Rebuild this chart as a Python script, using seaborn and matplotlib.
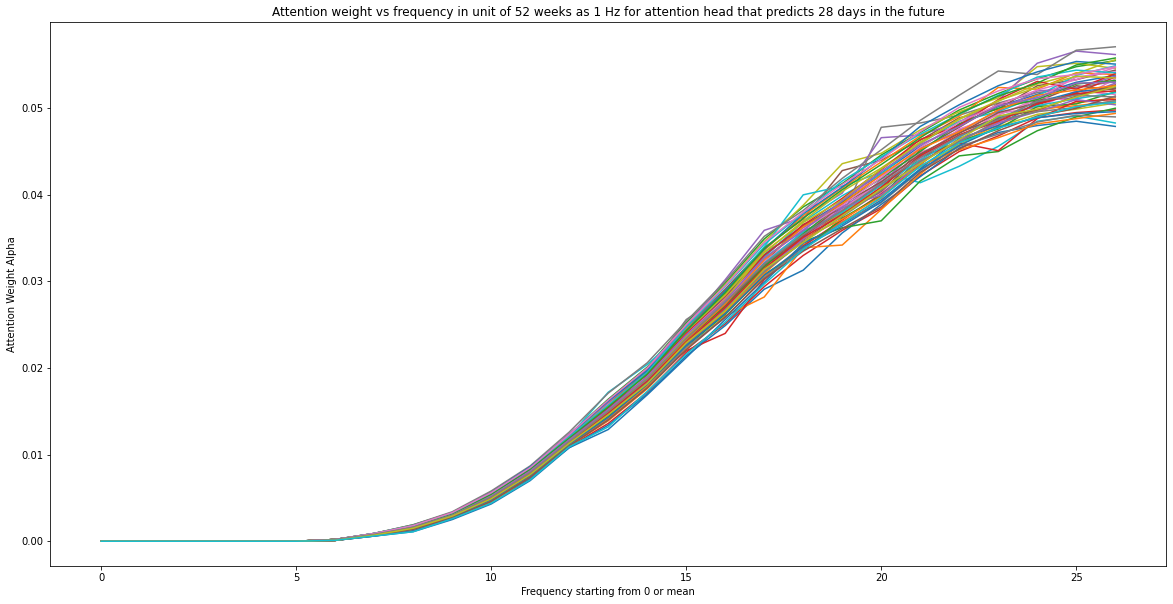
import matplotlib
matplotlib.use('Agg')
import matplotlib.pyplot as plt
import numpy as np
import pandas as pd
import seaborn as sns

# Frequency index (0 = mean term)
frequency = [0, 1, 2, 3, 4, 5, 6, 7, 8, 9, 10, 11, 12, 13, 14, 15, 16, 17, 18, 19, 20,
             21, 22, 23, 24, 25, 26]

# Attention weight per series, in thousandths
alpha_milli = [
    [0, 0, 0, 0, 0, 0, 0.2, 0.8, 1.7, 3.1, 5.4, 8.3, 11.9, 15.6, 19.2, 24.0, 28.3, 33.1, 36.4, 39.2, 42.5, 45.6, 48.1, 50.2, 51.6, 53.0, 53.8],
    [0, 0, 0, 0, 0, 0, 0.1, 0.7, 1.4, 2.8, 4.8, 7.6, 11.1, 14.3, 18.0, 22.6, 26.4, 30.5, 34.2, 36.9, 39.6, 43.8, 46.2, 48.4, 49.7, 50.6, 51.2],
    [0, 0, 0, 0, 0, 0, 0.2, 0.9, 1.9, 3.3, 5.7, 8.6, 12.3, 16.4, 20.1, 25.2, 29.8, 34.9, 38.6, 41.3, 44.6, 47.2, 49.8, 51.7, 53.4, 54.8, 55.5],
    [0, 0, 0, 0, 0, 0, 0.1, 0.6, 1.2, 2.6, 4.5, 7.2, 10.9, 13.6, 17.2, 21.8, 25.1, 29.4, 33.0, 35.9, 38.4, 42.2, 45.0, 46.8, 48.9, 49.5, 49.8],
    [0, 0, 0, 0, 0, 0, 0.2, 0.8, 1.6, 3.0, 5.1, 7.9, 11.6, 15.2, 19.0, 23.3, 27.9, 31.6, 35.9, 37.6, 41.8, 44.1, 47.5, 48.6, 50.9, 51.2, 52.9],
    [0, 0, 0, 0, 0, 0, 0.2, 0.8, 1.8, 3.2, 5.5, 8.4, 12.0, 15.9, 19.6, 24.6, 29.1, 33.9, 37.2, 42.8, 44.0, 46.3, 48.9, 49.9, 52.6, 53.3, 54.4],
    [0, 0, 0, 0, 0, 0, 0.1, 0.7, 1.5, 2.9, 5.0, 7.8, 11.3, 14.8, 18.5, 23.8, 27.0, 32.4, 35.1, 38.7, 40.2, 44.9, 46.6, 49.4, 50.1, 52.0, 51.6],
    [0, 0, 0, 0, 0, 0, 0.2, 0.8, 1.7, 3.1, 5.3, 8.2, 11.8, 15.5, 19.4, 25.6, 28.6, 33.4, 35.8, 37.4, 47.8, 48.3, 49.2, 50.6, 51.8, 52.4, 53.1],
    [0, 0, 0, 0, 0, 0, 0.2, 0.9, 1.8, 3.2, 5.6, 8.5, 12.2, 16.1, 19.9, 24.9, 29.6, 34.6, 38.8, 43.6, 44.8, 47.5, 49.6, 51.2, 54.8, 55.2, 54.6],
    [0, 0, 0, 0, 0, 0, 0.2, 0.8, 1.7, 3.1, 5.4, 8.3, 12.1, 17.2, 20.4, 24.4, 28.8, 34.0, 40.0, 41.0, 42.6, 41.4, 43.3, 45.6, 48.5, 49.1, 48.3],
    [0, 0, 0, 0, 0, 0, 0.1, 0.6, 1.3, 2.6, 4.6, 7.3, 10.8, 13.4, 17.0, 21.4, 24.9, 29.1, 31.3, 35.6, 38.9, 42.1, 45.4, 47.2, 48.0, 48.5, 47.9],
    [0, 0, 0, 0, 0, 0, 0.1, 0.7, 1.4, 2.7, 4.4, 7.5, 11.0, 13.9, 17.6, 22.2, 26.0, 28.2, 33.9, 34.2, 38.3, 42.4, 46.0, 48.1, 49.9, 50.3, 50.8],
    [0, 0, 0, 0, 0, 0, 0.1, 0.7, 1.5, 2.8, 4.9, 7.7, 11.2, 14.6, 18.3, 22.9, 26.8, 31.2, 34.6, 36.2, 37.0, 41.6, 44.5, 45.0, 47.4, 49.0, 50.0],
    [0, 0, 0, 0, 0, 0, 0.1, 0.7, 1.5, 2.9, 5.0, 7.8, 11.4, 14.7, 18.4, 22.0, 24.0, 30.2, 34.1, 37.1, 40.1, 43.5, 46.9, 48.8, 50.4, 51.8, 53.6],
    [0, 0, 0, 0, 0, 0, 0.2, 0.9, 1.8, 3.3, 5.6, 8.4, 12.4, 16.0, 19.8, 24.8, 30.2, 35.9, 37.4, 40.2, 46.6, 46.9, 48.4, 50.9, 55.2, 56.6, 56.2],
    [0, 0, 0, 0, 0, 0, 0.2, 0.8, 1.6, 3.0, 5.2, 8.1, 11.7, 15.1, 18.9, 23.6, 27.6, 32.2, 36.6, 38.4, 40.6, 45.2, 47.8, 50.5, 50.8, 52.6, 52.1],
    [0, 0, 0, 0, 0, 0, 0.2, 0.8, 1.6, 3.0, 5.1, 8.0, 11.5, 14.9, 18.7, 23.1, 27.3, 31.8, 35.0, 39.5, 42.2, 44.8, 46.4, 48.2, 51.3, 50.9, 53.4],
    [0, 0, 0, 0, 0, 0, 0.2, 0.9, 1.9, 3.4, 5.8, 8.7, 12.6, 17.1, 20.6, 25.4, 30.0, 35.2, 38.2, 41.9, 45.2, 48.6, 51.5, 54.3, 53.9, 56.7, 57.1],
    [0, 0, 0, 0, 0, 0, 0.1, 0.7, 1.5, 2.9, 4.9, 7.7, 11.3, 14.5, 18.1, 22.8, 26.6, 31.0, 35.4, 37.9, 40.8, 43.2, 45.8, 47.9, 49.3, 49.9, 50.6],
    [0, 0, 0, 0, 0, 0, 0.2, 0.8, 1.7, 3.1, 5.3, 8.2, 11.8, 15.4, 19.3, 24.2, 28.0, 32.8, 36.9, 39.9, 42.4, 46.0, 48.5, 49.6, 51.4, 53.8, 54.9],
    [0, 0, 0, 0, 0, 0, 0.1, 0.6, 1.1, 2.5, 4.3, 7.0, 10.8, 12.9, 16.9, 21.2, 25.6, 29.9, 34.4, 36.6, 39.4, 43.0, 46.5, 48.0, 50.7, 51.9, 52.4],
    [0, 0, 0, 0, 0, 0, 0.2, 0.9, 1.8, 3.2, 5.5, 8.5, 12.1, 15.8, 19.5, 24.5, 28.4, 33.6, 37.6, 40.8, 43.8, 46.8, 49.1, 52.4, 52.2, 54.1, 53.9],
    [0, 0, 0, 0, 0, 0, 0.1, 0.7, 1.4, 2.8, 4.8, 7.6, 11.2, 14.4, 18.2, 22.5, 26.2, 30.8, 33.6, 37.3, 39.9, 44.3, 46.2, 47.6, 50.2, 50.5, 51.9],
    [0, 0, 0, 0, 0, 0, 0.2, 0.8, 1.6, 3.0, 5.2, 8.0, 11.6, 15.0, 18.6, 23.4, 27.4, 31.4, 35.3, 38.1, 41.2, 44.4, 46.0, 45.1, 48.8, 50.8, 51.0],
    [0, 0, 0, 0, 0, 0, 0.2, 0.8, 1.7, 3.1, 5.3, 8.1, 11.7, 15.3, 19.1, 23.9, 27.8, 32.6, 36.2, 38.6, 41.4, 45.4, 47.4, 49.7, 52.0, 52.3, 53.7],
    [0, 0, 0, 0, 0, 0, 0.1, 0.7, 1.5, 2.9, 5.0, 7.9, 11.4, 14.9, 18.6, 23.2, 27.2, 31.9, 34.8, 37.8, 40.4, 44.6, 47.2, 48.9, 49.8, 51.4, 52.7],
    [0, 0, 0, 0, 0, 0, 0.2, 0.8, 1.6, 3.0, 5.2, 8.1, 11.6, 15.2, 18.9, 23.7, 27.7, 32.3, 35.6, 38.3, 41.6, 44.2, 47.6, 49.2, 51.1, 53.6, 54.2],
    [0, 0, 0, 0, 0, 0, 0.1, 0.7, 1.4, 2.7, 4.7, 7.4, 11.0, 14.1, 17.8, 22.4, 25.8, 30.4, 33.8, 36.8, 39.1, 42.8, 45.6, 47.0, 48.4, 49.2, 49.0],
    [0, 0, 0, 0, 0, 0, 0.2, 0.8, 1.7, 3.1, 5.4, 8.3, 11.9, 15.6, 19.3, 24.1, 28.5, 33.3, 37.0, 40.4, 43.1, 46.1, 48.7, 50.8, 52.8, 54.0, 55.6],
    [0, 0, 0, 0, 0, 0, 0.2, 0.8, 1.6, 3.0, 5.1, 7.9, 11.5, 15.1, 18.8, 23.5, 27.5, 32.1, 35.7, 38.0, 41.1, 44.0, 46.7, 49.0, 50.3, 51.1, 51.8],
    [0, 0, 0, 0, 0, 0, 0.2, 0.9, 1.8, 3.2, 5.6, 8.6, 12.2, 16.2, 19.7, 24.3, 28.9, 33.7, 37.8, 40.9, 44.2, 47.9, 50.4, 52.6, 54.2, 55.4, 55.1],
    [0, 0, 0, 0, 0, 0, 0.1, 0.7, 1.4, 2.8, 4.8, 7.5, 11.1, 14.2, 17.9, 22.7, 26.5, 30.9, 34.9, 37.2, 39.8, 43.4, 45.2, 46.6, 48.2, 48.8, 49.4],
    [0, 0, 0, 0, 0, 0, 0.2, 0.8, 1.6, 3.0, 5.2, 8.0, 11.6, 15.0, 18.7, 23.4, 27.1, 31.7, 35.5, 39.1, 41.9, 45.0, 48.2, 50.0, 51.0, 52.8, 53.2],
    [0, 0, 0, 0, 0, 0, 0.2, 0.8, 1.7, 3.1, 5.3, 8.2, 11.8, 15.4, 19.2, 24.0, 28.1, 33.0, 36.5, 39.6, 42.9, 46.4, 48.0, 51.0, 53.1, 52.2, 54.0],
    [0, 0, 0, 0, 0, 0, 0.1, 0.7, 1.5, 2.9, 5.0, 7.8, 11.3, 14.7, 18.4, 22.9, 26.9, 31.3, 34.9, 38.5, 40.0, 43.7, 46.3, 48.3, 49.6, 51.0, 50.4],
    [0, 0, 0, 0, 0, 0, 0.2, 0.8, 1.6, 3.0, 5.1, 8.0, 11.5, 14.9, 18.8, 23.6, 27.3, 32.0, 35.2, 38.9, 41.5, 44.7, 47.1, 49.5, 50.6, 51.6, 52.3],
    [0, 0, 0, 0, 0, 0, 0.2, 0.8, 1.7, 3.1, 5.3, 8.1, 11.9, 15.8, 19.0, 23.8, 28.0, 32.6, 36.0, 38.8, 42.0, 45.5, 48.4, 50.4, 52.1, 53.3, 54.7],
    [0, 0, 0, 0, 0, 0, 0.1, 0.7, 1.5, 2.8, 4.9, 7.7, 11.3, 14.6, 18.3, 22.8, 26.7, 31.1, 34.6, 37.5, 40.5, 43.9, 46.1, 48.6, 49.6, 50.1, 50.9],
    [0, 0, 0, 0, 0, 0, 0.2, 0.8, 1.6, 3.0, 5.2, 8.0, 11.6, 15.1, 18.9, 23.6, 27.9, 33.4, 36.8, 39.4, 43.0, 45.9, 48.8, 50.9, 52.4, 53.7, 53.5],
    [0, 0, 0, 0, 0, 0, 0.2, 0.9, 1.8, 3.2, 5.5, 8.4, 12.1, 15.7, 19.5, 24.7, 29.4, 34.3, 37.9, 41.6, 44.4, 47.0, 49.3, 51.5, 53.6, 54.4, 54.1],
    [0, 0, 0, 0, 0, 0, 0.1, 0.7, 1.4, 2.8, 4.8, 7.6, 11.2, 14.3, 18.1, 22.6, 26.3, 30.7, 34.0, 36.4, 39.2, 42.9, 45.7, 47.8, 48.9, 49.4, 49.6],
    [0, 0, 0, 0, 0, 0, 0.2, 0.8, 1.6, 3.0, 5.1, 8.0, 11.5, 14.9, 18.6, 23.3, 27.4, 32.5, 36.3, 39.0, 42.3, 45.3, 47.3, 49.8, 51.5, 52.1, 52.6],
    [0, 0, 0, 0, 0, 0, 0.2, 0.8, 1.7, 3.1, 5.4, 8.3, 11.9, 15.5, 19.3, 24.3, 28.7, 33.8, 37.3, 40.6, 43.5, 46.6, 49.4, 51.4, 52.9, 55.0, 55.8],
    [0, 0, 0, 0, 0, 0, 0.1, 0.7, 1.5, 2.9, 5.0, 7.8, 11.4, 14.8, 18.5, 23.0, 27.0, 31.5, 35.1, 37.7, 40.9, 44.5, 46.9, 48.5, 50.5, 51.7, 52.0],
    [0, 0, 0, 0, 0, 0, 0.2, 0.8, 1.6, 3.0, 5.2, 8.1, 11.7, 15.2, 19.0, 23.8, 27.8, 32.7, 35.9, 39.3, 42.7, 45.8, 47.9, 50.3, 51.2, 52.9, 53.0],
    [0, 0, 0, 0, 0, 0, 0.1, 0.7, 1.4, 2.7, 4.6, 7.4, 11.0, 14.0, 17.7, 22.1, 25.9, 30.3, 33.5, 36.1, 38.6, 42.6, 45.3, 47.4, 49.1, 50.0, 51.4],
    [0, 0, 0, 0, 0, 0, 0.2, 0.9, 1.8, 3.3, 5.6, 8.5, 12.3, 16.3, 20.0, 25.0, 29.5, 34.5, 38.0, 41.2, 44.1, 47.3, 50.1, 52.0, 53.4, 53.9, 54.8],
    [0, 0, 0, 0, 0, 0, 0.2, 0.8, 1.6, 3.0, 5.1, 7.9, 11.5, 15.0, 18.7, 23.4, 27.6, 32.0, 35.4, 38.2, 41.3, 44.3, 46.8, 48.7, 50.8, 51.5, 51.3],
    [0, 0, 0, 0, 0, 0, 0.1, 0.7, 1.5, 2.9, 4.9, 7.7, 11.3, 14.6, 18.2, 22.9, 26.6, 31.4, 34.5, 37.6, 40.7, 43.6, 46.4, 49.1, 49.9, 51.3, 52.5],
    [0, 0, 0, 0, 0, 0, 0.1, 0.6, 1.1, 2.6, 4.4, 7.1, 10.9, 13.2, 17.3, 21.6, 25.3, 29.7, 33.7, 36.7, 39.7, 43.3, 46.0, 47.7, 49.0, 50.2, 50.7],
]

title = 'Attention weight vs frequency in unit of 52 weeks as 1 Hz for attention head that predicts 28 days in the future'

df = pd.DataFrame(np.array(alpha_milli).T / 1000.0, index=frequency,
                  columns=['s{}'.format(i) for i in range(len(alpha_milli))])

fig = plt.figure(figsize=(1173 / 72, 604 / 72), dpi=72)
ax = fig.add_axes([0.043, 0.063, 0.951, 0.9005])
sns.lineplot(data=df, ax=ax, palette=sns.color_palette('tab10', len(alpha_milli)),
             dashes=False, legend=False, linewidth=1.5)
ax.set_title(title)
ax.set_xlabel('Frequency starting from 0 or mean')
ax.set_ylabel('Attention Weight Alpha')

fig.savefig('out.png', dpi=72)
